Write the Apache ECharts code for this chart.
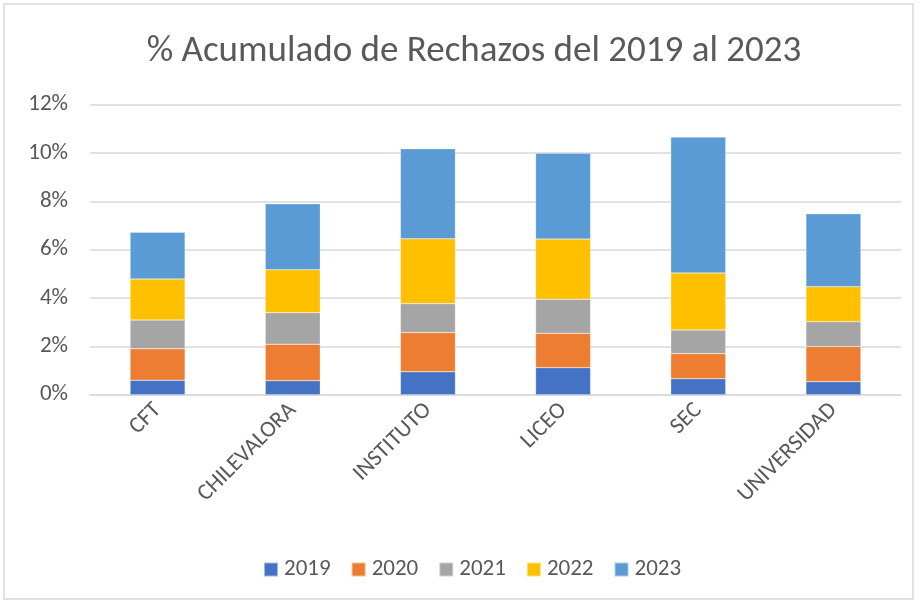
<!DOCTYPE html>
<html>
<head>
<meta charset="utf-8">
<script src="https://cdn.jsdelivr.net/npm/echarts@6/dist/echarts.min.js"></script>
<style>
  html, body { margin: 0; padding: 0; background: #fff; }
  #chart { width: 918px; height: 603px; }
</style>
</head>
<body>
<div id="chart"></div>
<script>
// values, in percent
var categories = ['CFT', 'CHILEVALORA', 'INSTITUTO', 'LICEO', 'SEC', 'UNIVERSIDAD'];
var years = ['2019', '2020', '2021', '2022', '2023'];
var v2019 = [0.60, 0.58, 0.95, 1.12, 0.66, 0.54];
var v2020 = [1.30, 1.51, 1.62, 1.42, 1.04, 1.45];
var v2021 = [1.19, 1.30, 1.20, 1.41, 0.98, 1.03];
var v2022 = [1.70, 1.78, 2.68, 2.49, 2.36, 1.45];
var v2023 = [1.93, 2.73, 3.73, 3.55, 5.62, 3.02];
var colors = ['#4472C4', '#ED7D31', '#A5A5A5', '#FFC000', '#5B9BD5'];

var font = 'Carlito, Lato, "Open Sans", sans-serif';
var allValues = [v2019, v2020, v2021, v2022, v2023];

var series = years.map(function(y, i) {
  return {
    name: y,
    type: 'bar',
    stack: 'total',
    barWidth: 55,
    data: allValues[i],
    itemStyle: { color: colors[i], borderColor: 'rgba(255,255,255,0.5)', borderWidth: 0.5 }
  };
});

var chart = echarts.init(document.getElementById('chart'));
chart.setOption({
  animation: false,
  backgroundColor: '#fff',
  graphic: [{
    type: 'rect',
    shape: { x: 4, y: 4, width: 909, height: 595 },
    style: { fill: 'none', stroke: '#d9d9d9', lineWidth: 1.5 },
    silent: true
  }],
  title: {
    text: '% Acumulado de Rechazos del 2019 al 2023',
    left: 469,
    textAlign: 'center',
    top: 28,
    textStyle: { fontFamily: font, fontSize: 37, fontWeight: 'normal', color: '#595959' }
  },
  legend: {
    top: 553,
    left: 258,
    itemWidth: 14,
    itemHeight: 14,
    itemGap: 20,
    icon: 'rect',
    textStyle: { fontFamily: font, fontSize: 23, color: '#595959', padding: [0, 0, 0, 1] },
    data: years
  },
  grid: { left: 90, right: 17, top: 104.7, height: 290 },
  xAxis: {
    type: 'category',
    data: categories,
    axisLine: { lineStyle: { color: '#d9d9d9', width: 1.5 } },
    axisTick: { show: false },
    axisLabel: {
      rotate: 45,
      interval: 0,
      margin: 12,
      fontFamily: font,
      fontSize: 23,
      color: '#595959'
    }
  },
  yAxis: {
    type: 'value',
    min: 0,
    max: 12,
    interval: 2,
    axisLine: { show: false },
    axisTick: { show: false },
    splitLine: { lineStyle: { color: '#d9d9d9', width: 1.5 } },
    axisLabel: {
      formatter: '{value}%',
      margin: 22,
      fontFamily: font,
      fontSize: 23,
      color: '#595959'
    }
  },
  series: series
});
</script>
</body>
</html>
